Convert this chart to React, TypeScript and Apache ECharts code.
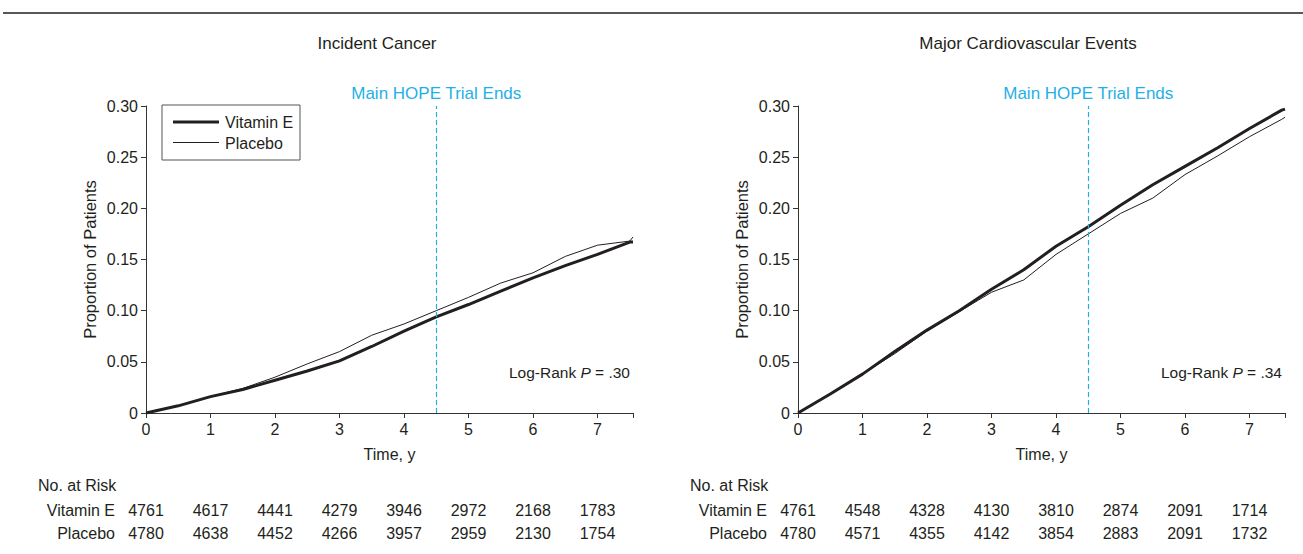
import React, { useEffect, useRef } from 'react';
import * as echarts from 'echarts';

const years = [0, 0.5, 1, 1.5, 2, 2.5, 3, 3.5, 4, 4.5, 5, 5.5, 6, 6.5, 7, 7.5, 7.55];
const cancerVitaminE = [0, 0.007, 0.016, 0.023, 0.032, 0.041, 0.051, 0.065, 0.08, 0.094, 0.106, 0.119, 0.132, 0.144, 0.155, 0.167, 0.167];
const cancerPlacebo = [0, 0.007, 0.016, 0.024, 0.035, 0.048, 0.06, 0.076, 0.087, 0.1, 0.113, 0.127, 0.137, 0.153, 0.164, 0.168, 0.172];
const cvVitaminE = [0, 0.0185, 0.038, 0.06, 0.081, 0.1, 0.121, 0.14, 0.163, 0.182, 0.203, 0.223, 0.241, 0.259, 0.278, 0.296, 0.297];
const cvPlacebo = [0, 0.0185, 0.038, 0.058, 0.08, 0.099, 0.118, 0.13, 0.155, 0.175, 0.195, 0.21, 0.233, 0.251, 0.27, 0.287, 0.289];

const atRiskYears = [0, 1, 2, 3, 4, 5, 6, 7];
const cancerRiskVitaminE = [4761, 4617, 4441, 4279, 3946, 2972, 2168, 1783];
const cancerRiskPlacebo = [4780, 4638, 4452, 4266, 3957, 2959, 2130, 1754];
const cvRiskVitaminE = [4761, 4548, 4328, 4130, 3810, 2874, 2091, 1714];
const cvRiskPlacebo = [4780, 4571, 4355, 4142, 3854, 2883, 2091, 1732];

const panelTitles = ['Incident Cancer', 'Major Cardiovascular Events'];
const seriesNames = ['Vitamin E', 'Placebo'];
const logRankP = ['.30', '.34'];
const trialEndYear = 4.5;

const INK = '#231f20';
const BLUE = '#1fb0e6';
const FONT = '"Liberation Sans", Arial, Helvetica, sans-serif';

export default function App() {
  const ref = useRef<HTMLDivElement>(null);
  useEffect(() => {
    if (!ref.current) return;
    const chart = echarts.init(ref.current, null, { renderer: 'svg' });
    const grids = [
      { left: 146, top: 106, width: 487, height: 307 },
      { left: 798, top: 106, width: 487, height: 307 },
    ];
    const mkX = (i: number) => ({
      type: 'value', gridIndex: i, min: 0, max: 7.55, interval: 1,
      name: 'Time, y', nameLocation: 'middle', nameGap: 33,
      nameTextStyle: { color: INK, fontSize: 16, fontFamily: FONT },
      axisLine: { lineStyle: { color: '#333', width: 1 } },
      axisTick: { length: 5, lineStyle: { color: '#333' } },
      axisLabel: {
        color: INK, fontSize: 16, fontFamily: FONT, margin: 8,
        formatter: (v: number) => (Number.isInteger(v) ? String(v) : ''),
      },
      splitLine: { show: false },
    });
    const mkY = (i: number) => ({
      type: 'value', gridIndex: i, min: 0, max: 0.3, interval: 0.05,
      name: 'Proportion of Patients', nameLocation: 'middle', nameGap: 48, nameRotate: 90,
      nameTextStyle: { color: INK, fontSize: 16.5, fontFamily: FONT },
      axisLine: { show: true, lineStyle: { color: '#333', width: 1 } },
      axisTick: { show: true, length: 5, lineStyle: { color: '#333' } },
      axisLabel: {
        color: INK, fontSize: 16, fontFamily: FONT, margin: 8,
        formatter: (v: number) => (v === 0 ? '0' : v.toFixed(2)),
      },
      splitLine: { show: false },
    });
    const markLine = {
      symbol: 'none', silent: true,
      lineStyle: { color: BLUE, width: 1.2, type: [5, 3] },
      label: { show: true, position: 'end', formatter: 'Main HOPE Trial Ends', color: BLUE, fontSize: 17, fontFamily: FONT, distance: 4 },
      data: [{ xAxis: trialEndYear }],
    };
    const pair = (a: number[]) => years.map((y, i) => [y, a[i]]);
    const series = [
      { name: seriesNames[0], type: 'line', xAxisIndex: 0, yAxisIndex: 0, data: pair(cancerVitaminE), showSymbol: false, symbol: 'none', lineStyle: { color: INK, width: 3 }, itemStyle: { color: INK }, z: 3, markLine },
      { name: seriesNames[1], type: 'line', xAxisIndex: 0, yAxisIndex: 0, data: pair(cancerPlacebo), showSymbol: false, symbol: 'none', lineStyle: { color: INK, width: 1 }, itemStyle: { color: INK }, z: 2 },
      { name: seriesNames[0], type: 'line', xAxisIndex: 1, yAxisIndex: 1, data: pair(cvVitaminE), showSymbol: false, symbol: 'none', lineStyle: { color: INK, width: 3 }, itemStyle: { color: INK }, z: 3, markLine },
      { name: seriesNames[1], type: 'line', xAxisIndex: 1, yAxisIndex: 1, data: pair(cvPlacebo), showSymbol: false, symbol: 'none', lineStyle: { color: INK, width: 1 }, itemStyle: { color: INK }, z: 2 },
    ];
    chart.setOption({
      animation: false,
      textStyle: { fontFamily: FONT },
      title: [
        { text: panelTitles[0], left: 372, top: 30, textAlign: 'center', textStyle: { color: INK, fontSize: 17, fontWeight: 'normal', fontFamily: FONT } },
        { text: panelTitles[1], left: 1023, top: 30, textAlign: 'center', textStyle: { color: INK, fontSize: 17, fontWeight: 'normal', fontFamily: FONT } },
      ],
      grid: grids,
      xAxis: [mkX(0), mkX(1)],
      yAxis: [mkY(0), mkY(1)],
      series,
    });

    const graphics: any[] = [
      { type: 'line', shape: { x1: 3, y1: 13, x2: 1303, y2: 13 }, style: { stroke: INK, lineWidth: 1.5 } },
      // legend box
      { type: 'rect', shape: { x: 162, y: 105, width: 138, height: 55 }, style: { fill: '#fff', stroke: '#555', lineWidth: 1 }, z: 10 },
      { type: 'line', shape: { x1: 173, y1: 122, x2: 219, y2: 122 }, style: { stroke: INK, lineWidth: 3 }, z: 11 },
      { type: 'line', shape: { x1: 173, y1: 142.5, x2: 219, y2: 142.5 }, style: { stroke: INK, lineWidth: 1 }, z: 11 },
      { type: 'text', x: 225, y: 122, style: { text: seriesNames[0], fill: INK, fontSize: 16, fontFamily: FONT, verticalAlign: 'middle' }, z: 11 },
      { type: 'text', x: 225, y: 143, style: { text: seriesNames[1], fill: INK, fontSize: 16, fontFamily: FONT, verticalAlign: 'middle' }, z: 11 },
    ];
    const tables = [
      [cancerRiskVitaminE, cancerRiskPlacebo],
      [cvRiskVitaminE, cvRiskPlacebo],
    ];
    tables.forEach((risk, gi) => {
      const origin = chart.convertToPixel({ gridIndex: gi }, [0, 0]) as number[];
      const topRight = chart.convertToPixel({ gridIndex: gi }, [7.55, 0.3]) as number[];
      const pRow = chart.convertToPixel({ gridIndex: gi }, [7.5, 0.04]) as number[];
      graphics.push({
        type: 'text', x: topRight[0] - 3, y: pRow[1],
        style: {
          text: 'Log-Rank {i|P} = ' + logRankP[gi], align: 'right', verticalAlign: 'middle',
          fill: INK, fontSize: 15.5, fontFamily: FONT,
          rich: { i: { fontStyle: 'italic', fontSize: 15.5, fontFamily: FONT, fill: INK } },
        },
      });
      const labelRight = origin[0] - 31;
      graphics.push({ type: 'text', x: origin[0] - 108, y: 485, style: { text: 'No. at Risk', fill: INK, fontSize: 16, fontFamily: FONT, verticalAlign: 'middle' } });
      seriesNames.forEach((lab, ri) => {
        const yy = 510 + ri * 23.5;
        graphics.push({ type: 'text', x: labelRight, y: yy, style: { text: lab, align: 'right', verticalAlign: 'middle', fill: INK, fontSize: 16, fontFamily: FONT } });
        atRiskYears.forEach((yr, k) => {
          const px = chart.convertToPixel({ gridIndex: gi }, [yr, 0]) as number[];
          graphics.push({ type: 'text', x: px[0], y: yy, style: { text: String(risk[ri][k]), align: 'center', verticalAlign: 'middle', fill: INK, fontSize: 16, fontFamily: FONT } });
        });
      });
    });
    chart.setOption({ graphic: graphics });
    return () => chart.dispose();
  }, []);
  return <div ref={ref} style={{ position: 'absolute', left: 0, top: 0, width: 1303, height: 554, background: '#fff' }} />;
}
